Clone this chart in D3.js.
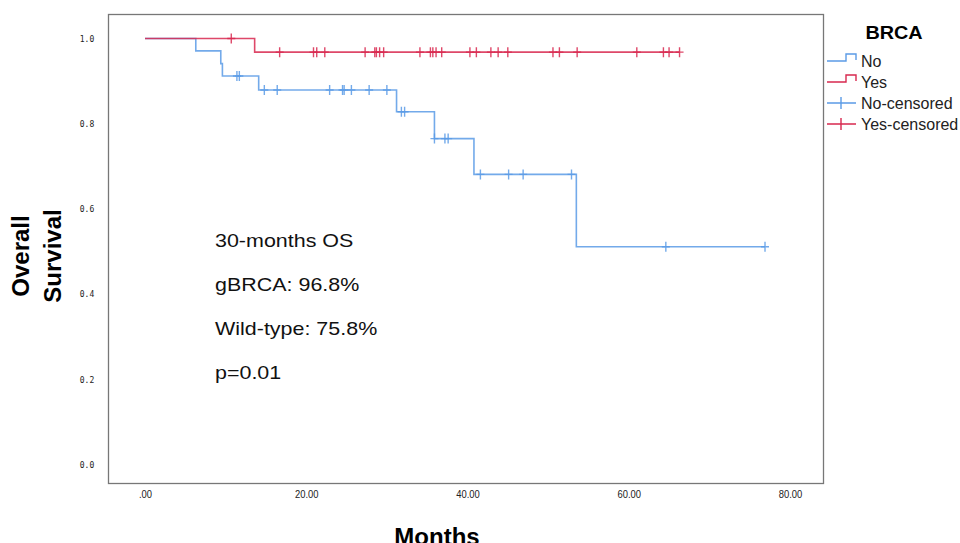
<!DOCTYPE html>
<html>
<head>
<meta charset="utf-8">
<title>Overall Survival by BRCA</title>
<script src="https://d3js.org/d3.v7.min.js"></script>
<style>
  body { margin: 0; background: #fff; }
  svg { display: block; font-family: Arial, "Liberation Sans", sans-serif; }
</style>
</head>
<body>
<script>
// survival steps: [month, survival]
const noSteps = [[0, 1.0], [6.3, 0.971], [9.4, 0.941], [9.6, 0.912], [14.1, 0.879], [31.2, 0.828], [35.9, 0.765], [40.8, 0.681], [53.5, 0.511]];
const yesSteps = [[0, 1.0], [13.6, 0.968]];
const noEnd = 76.9, yesEnd = 66.3;

// censored times (months)
const noCensored = [11.4, 11.7, 14.8, 16.4, 22.9, 24.5, 24.7, 25.6, 27.8, 30.0, 31.8, 32.2, 35.9, 37.2, 37.6, 41.6, 45.1, 46.9, 52.9, 64.6, 76.9];
const yesCensored = [10.7, 16.7, 20.9, 21.3, 22.3, 27.3, 28.5, 28.7, 29.1, 29.6, 34.1, 35.4, 35.7, 36.1, 36.8, 40.3, 41.1, 42.9, 43.8, 45.0, 50.6, 51.4, 53.6, 61.0, 64.3, 65.0, 66.3];

const xTicks = [0, 20, 40, 60, 80];
const yTicks = [0, 0.2, 0.4, 0.6, 0.8, 1.0];
const notes = ["30-months OS", "gBRCA: 96.8%", "Wild-type: 75.8%", "p=0.01"];
const legendItems = ["No", "Yes", "No-censored", "Yes-censored"];

const blue = "#5b9be6", red = "#d8284f";

let width = 960, height = 543;
let svg = d3.select("body").append("svg")
    .attr("width", width)
    .attr("height", height);

let x = d3.scaleLinear().domain([0, 80]).range([145, 790]);
let y = d3.scaleLinear().domain([0, 1]).range([464.5, 38.5]);

// frame
svg.append("rect")
    .attr("x", 108.5).attr("y", 14.5)
    .attr("width", 715).attr("height", 469)
    .attr("fill", "none")
    .attr("stroke", "#777")
    .attr("stroke-width", 1.3);

// axes (labels only, SPSS style)
let xAxis = svg.append("g")
    .attr("transform", "translate(0,494)")
    .call(d3.axisBottom(x).tickValues(xTicks).tickSize(0).tickFormat(d => d === 0 ? ".00" : d3.format(".2f")(d)));
xAxis.select(".domain").remove();
xAxis.selectAll("text")
    .attr("font-size", 11.5)
    .attr("fill", "#222")
    .attr("y", 0)
    .attr("dy", "0.35em")
    .attr("transform", "scale(0.82,1)");

let yAxis = svg.append("g")
    .attr("transform", "translate(93,0)")
    .call(d3.axisLeft(y).tickValues(yTicks).tickSize(0).tickFormat(d3.format(".1f")));
yAxis.select(".domain").remove();
yAxis.selectAll("text")
    .attr("font-family", "'DejaVu Sans Mono', monospace")
    .attr("font-size", 8)
    .attr("fill", "#222")
    .attr("text-anchor", "middle")
    .attr("x", -6)
    .attr("dy", "0.35em");

// step lines
function stepPath(steps, end) {
    let pts = steps.slice();
    pts.push([end, steps[steps.length - 1][1]]);
    return d3.line()
        .x(d => x(d[0]))
        .y(d => y(d[1]))
        .curve(d3.curveStepAfter)(pts);
}

function survAt(steps, t) {
    let i = d3.bisectRight(steps.map(d => d[0]), t) - 1;
    return steps[Math.max(i, 0)][1];
}

let series = [
    {steps: noSteps, end: noEnd, cens: noCensored, color: blue},
    {steps: yesSteps, end: yesEnd, cens: yesCensored, color: red}
];

series.forEach(s => {
    svg.append("path")
        .attr("d", stepPath(s.steps, s.end))
        .attr("fill", "none")
        .attr("stroke", s.color)
        .attr("stroke-width", 1.6)
        .attr("stroke-opacity", 0.85);

    svg.append("g").selectAll("path")
        .data(s.cens)
        .enter()
        .append("path")
        .attr("d", t => {
            let cx = x(t), cy = y(survAt(s.steps, t));
            return `M${cx - 4},${cy}H${cx + 4}M${cx},${cy - 5}V${cy + 5}`;
        })
        .attr("stroke", s.color)
        .attr("stroke-width", 1.4)
        .attr("stroke-opacity", 0.85)
        .attr("fill", "none");
});

// annotation text (source image is a bit stretched horizontally)
svg.append("g")
    .attr("transform", "translate(215,0) scale(1.13,1)")
    .selectAll("text")
    .data(notes)
    .enter()
    .append("text")
    .attr("x", 0)
    .attr("y", (d, i) => 247 + i * 44)
    .attr("font-size", 19)
    .attr("fill", "#111")
    .text(d => d);

// axis titles
svg.append("text")
    .attr("x", 437).attr("y", 545)
    .attr("text-anchor", "middle")
    .attr("font-size", 24)
    .attr("font-weight", "bold")
    .text("Months");

svg.append("text")
    .attr("transform", "translate(29,256) rotate(-90)")
    .attr("text-anchor", "middle")
    .attr("font-size", 24)
    .attr("font-weight", "bold")
    .text("Overall");
svg.append("text")
    .attr("transform", "translate(61,256) rotate(-90)")
    .attr("text-anchor", "middle")
    .attr("font-size", 24)
    .attr("font-weight", "bold")
    .text("Survival");

// legend
svg.append("text")
    .attr("transform", "translate(894,39) scale(1.1,1)")
    .attr("text-anchor", "middle")
    .attr("font-size", 18)
    .attr("font-weight", "bold")
    .text("BRCA");

let leg = svg.append("g").selectAll("g")
    .data(legendItems)
    .enter()
    .append("g")
    .attr("transform", (d, i) => `translate(0,${61 + i * 21})`);

leg.append("path")
    .attr("d", (d, i) => i < 2
        ? "M827,0H846V-7H856V-1"
        : "M827,0H856M841,-6V6")
    .attr("fill", "none")
    .attr("stroke", (d, i) => i % 2 === 0 ? blue : red)
    .attr("stroke-width", 1.4);

leg.append("text")
    .attr("x", 861)
    .attr("y", 6)
    .attr("font-size", 16)
    .attr("fill", "#222")
    .text(d => d);
</script>
</body>
</html>
